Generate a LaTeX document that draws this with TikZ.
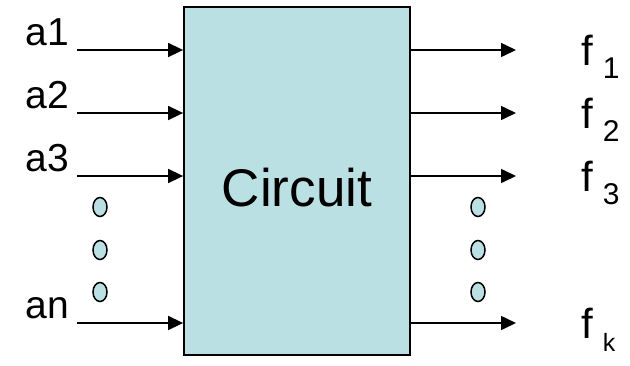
\documentclass[tikz,border=0pt]{standalone}
\usepackage{fontspec}
\setmainfont{Liberation Sans}
\usetikzlibrary{arrows.meta, positioning, shapes.geometric}
\definecolor{circfill}{RGB}{187,224,227}
\newcommand{\fsub}[2][30]{\hspace{10pt}\raisebox{-13pt}{\fontsize{#1}{#1}\selectfont #2}}
\tikzset{
  sig/.style={line width=1.6pt, -{Triangle[length=15pt,width=14pt]}},
  inlab/.style={font=\fontsize{39}{39}\selectfont, anchor=base east, inner sep=0pt},
  outlab/.style={font=\fontsize{42}{42}\selectfont, anchor=base west, inner sep=0pt},
  dotmark/.style={ellipse, draw, fill=circfill, line width=1.5pt, minimum width=14pt, minimum height=19pt, inner sep=0pt},
}
\begin{document}
\begin{tikzpicture}[x=1pt, y=-1pt]
    \useasboundingbox (0,0) rectangle (630,365);

    % Circuit block
    \node[draw, line width=1.8pt, fill=circfill, minimum width=226pt, minimum height=348pt, inner sep=0pt] (circ) at (297,181) {};
    \node[font=\fontsize{53}{53}\selectfont, inner sep=0pt] (name) at ([yshift=-7pt]circ.center) {Circuit};

    % Inputs
    \foreach \i/\y/\t in {1/50/a1, 2/113/a2, 3/176/a3, n/323/an} {
        \coordinate (in\i) at (77,\y);
        \draw[sig] (in\i) -- (in\i -| circ.west);
        \node[inlab] (la\i) at ([xshift=-8pt, yshift=5pt]in\i) {\t};
    }

    % Outputs
    \foreach \i/\y in {1/50, 2/113, 3/176} {
        \coordinate (out\i) at (516,\y);
        \draw[sig] (out\i -| circ.east) -- (out\i);
        \node[outlab] (lf\i) at ([xshift=65pt, yshift=-15pt]out\i) {f\fsub{\i}};
    }
    \coordinate (outk) at (516,323);
    \draw[sig] (outk -| circ.east) -- (outk);
    \node[outlab] (lfk) at ([xshift=65pt, yshift=-15pt]outk) {f\fsub[25]{k}};

    % Ellipsis dots
    \foreach \j/\y in {1/207, 2/250, 3/292} {
        \node[dotmark] (dl\j) at (100,\y) {};
        \node[dotmark] (dr\j) at (478,\y) {};
    }
\end{tikzpicture}
\end{document}
